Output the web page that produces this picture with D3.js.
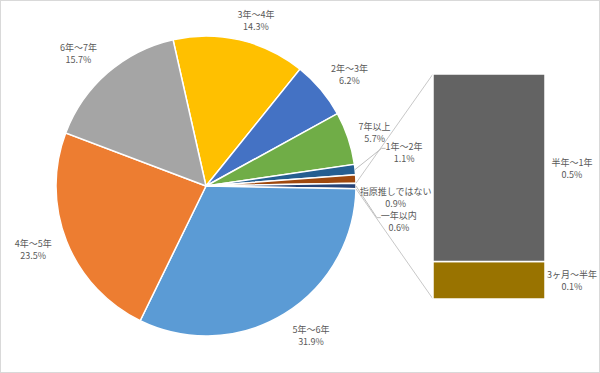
<!DOCTYPE html>
<html>
<head>
<meta charset="utf-8">
<script src="https://cdn.jsdelivr.net/npm/d3@7"></script>
<style>
body { margin: 0; background: #fff; }
text { font-family: "Noto Sans CJK JP", sans-serif; font-size: 9px; fill: #595959; }
</style>
</head>
<body>
<div id="chart"></div>
<script>
// pie slices, clockwise from the top-left (3年～4年)
var pieCategories = ["3年～4年", "2年～3年", "7年以上", "1年～2年", "指原推しではない", "一年以内", "5年～6年", "4年～5年", "6年～7年"];
var pieValues = [14.3, 6.2, 5.7, 1.1, 0.9, 0.6, 31.9, 23.5, 15.7];
var pieColors = ["#FFC000", "#4472C4", "#70AD47", "#255E91", "#9E480E", "#264478", "#5B9BD5", "#ED7D31", "#A5A5A5"];

// the "other" slice is split into the bar on the right (bottom to top)
var otherCategory = "一年以内";
var barCategories = ["3ヶ月～半年", "半年～1年"];
var barValues = [0.1, 0.5];
var barColors = ["#997300", "#636363"];

var width = 600, height = 373;
var cx = 206, cy = 186, radius = 150;
var barLeft = 433, barWidth = 112, barTop = 74, barBottom = 299;

// label placement: angle shift (deg) and distance from centre
var labelPlace = {
    "3年～4年": [3.7, 173],
    "2年～3年": [2, 182],
    "7年以上": [0.8, 177],
    "1年～2年": [-3.5, 201],
    "指原推しではない": [6, 190],
    "一年以内": [10.3, 196],
    "5年～6年": [-3.8, 182],
    "4年～5年": [1.5, 184],
    "6年～7年": [-2.9, 184]
};
var withLeader = ["1年～2年", "一年以内"];

var svg = d3.select("#chart").append("svg")
    .attr("width", width)
    .attr("height", height);

svg.append("rect")
    .attr("x", 0.5).attr("y", 0.5)
    .attr("width", width - 1).attr("height", height - 1)
    .attr("fill", "#fff")
    .attr("stroke", "#d9d9d9");

// rotate so the "other" slice faces the bar (3 o'clock)
var total = d3.sum(pieValues);
var oi = pieCategories.indexOf(otherCategory);
var before = d3.sum(pieValues.slice(0, oi)) + pieValues[oi] / 2;
var start = Math.PI / 2 - before / total * 2 * Math.PI;

var pie = d3.pie().sort(null).value(function(d) { return d; })
    .startAngle(start).endAngle(start + 2 * Math.PI);
var arcs = pie(pieValues);
var arc = d3.arc().innerRadius(0).outerRadius(radius);

var g = svg.append("g").attr("transform", "translate(" + cx + "," + cy + ")");

g.selectAll("path.slice").data(arcs).enter().append("path")
    .attr("class", "slice")
    .attr("d", arc)
    .attr("fill", function(d, i) { return pieColors[i]; })
    .attr("stroke", "#fff")
    .attr("stroke-width", 1.5);

function polar(a, r) {
    return [Math.sin(a) * r, -Math.cos(a) * r];
}

// bar
var y = d3.scaleLinear().domain([0, d3.sum(barValues)]).range([barBottom, barTop]);
var cum = 0;
var barData = barValues.map(function(v, i) {
    var d = { name: barCategories[i], value: v, y0: cum, y1: cum + v, color: barColors[i] };
    cum += v;
    return d;
});

// series lines from the other slice to the bar
var other = arcs[oi];
var p0 = polar(other.startAngle, radius), p1 = polar(other.endAngle, radius);
svg.append("line")
    .attr("x1", cx + p0[0]).attr("y1", cy + p0[1])
    .attr("x2", barLeft).attr("y2", y(d3.sum(barValues)))
    .attr("stroke", "#c8c8c8").attr("stroke-width", 1);
svg.append("line")
    .attr("x1", cx + p1[0]).attr("y1", cy + p1[1])
    .attr("x2", barLeft).attr("y2", y(0))
    .attr("stroke", "#c8c8c8").attr("stroke-width", 1);

svg.selectAll("rect.bar").data(barData).enter().append("rect")
    .attr("class", "bar")
    .attr("x", barLeft)
    .attr("width", barWidth)
    .attr("y", function(d) { return y(d.y1); })
    .attr("height", function(d) { return y(d.y0) - y(d.y1); })
    .attr("fill", function(d) { return d.color; })
    .attr("stroke", "#fff")
    .attr("stroke-width", 1.5);

barData.forEach(function(d) {
    var ly = (y(d.y0) + y(d.y1)) / 2;
    var t = svg.append("text")
        .attr("text-anchor", "middle")
        .attr("dominant-baseline", "central");
    t.append("tspan").attr("x", barLeft + barWidth + 27).attr("y", ly - 6).text(d.name);
    t.append("tspan").attr("x", barLeft + barWidth + 27).attr("y", ly + 6).text(d.value.toFixed(1) + "%");
});

// pie labels
arcs.forEach(function(d, i) {
    var name = pieCategories[i];
    var place = labelPlace[name];
    var mid = (d.startAngle + d.endAngle) / 2;
    var p = polar(mid + place[0] * Math.PI / 180, place[1]);
    var lx = cx + p[0], ly = cy + p[1];
    var t = svg.append("text")
        .attr("text-anchor", "middle")
        .attr("dominant-baseline", "central");
    var first = t.append("tspan").attr("x", lx).attr("y", ly - 6).text(name);
    t.append("tspan").attr("x", lx).attr("y", ly + 6).text(pieValues[i].toFixed(1) + "%");

    if (withLeader.indexOf(name) >= 0) {
        var w = first.node().getComputedTextLength();
        var left = lx - w / 2;
        var e = polar(mid, radius);
        var ey = ly - 6 + 2.6;
        svg.append("polyline")
            .attr("points", [[cx + e[0], cy + e[1]], [left - 4, ey], [left, ey]].join(" "))
            .attr("fill", "none")
            .attr("stroke", "#bfbfbf")
            .attr("stroke-width", 1);
    }
});
</script>
</body>
</html>
